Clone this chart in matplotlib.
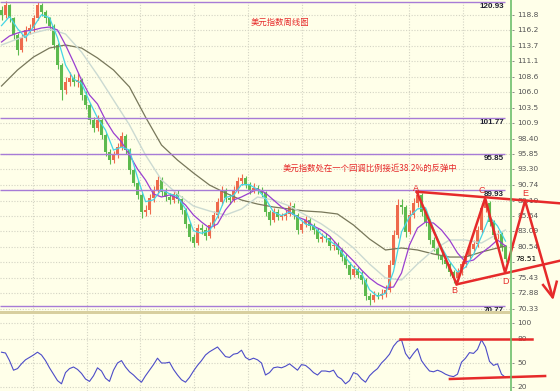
import matplotlib
matplotlib.use('Agg')
import matplotlib.pyplot as plt
import numpy as np
from matplotlib.lines import Line2D
from matplotlib.patches import Rectangle

plt.rcParams['font.family'] = ['Noto Sans CJK SC', 'DejaVu Sans']

# ---------------- data (4-week bars) ----------------
first_open = 119.6
close = [118.7, 120.4, 118.2, 115.5, 113.0, 115.0, 116.3, 116.6, 118.2, 120.4,
         119.2, 118.2, 116.9, 113.8, 110.5, 106.4, 107.7, 108.4, 107.7, 108.0,
         105.6, 103.9, 101.5, 100.1, 101.5, 99.0, 96.2, 94.9, 95.7, 97.0,
         98.8, 96.5, 93.2, 91.1, 89.1, 86.3, 86.6, 88.6, 89.9, 91.6,
         89.6, 88.8, 88.3, 89.3, 88.4, 86.6, 84.3, 82.2, 81.2, 83.7,
         83.3, 82.4, 84.1, 85.8, 88.0, 89.9, 88.6, 88.3, 89.9, 91.4,
         91.9, 90.9, 89.9, 90.3, 89.9, 89.4, 86.3, 85.0, 86.3, 85.5,
         85.6, 86.0, 87.3, 85.8, 83.3, 84.3, 85.0, 84.0, 83.3, 81.9,
         82.2, 82.0, 80.7, 80.9, 80.0, 78.9, 77.6, 76.0, 76.9, 76.0,
         75.1, 72.5, 71.8, 72.6, 72.5, 72.8, 73.5, 77.6, 82.5, 87.5,
         87.1, 83.0, 85.8, 87.8, 89.1, 86.3, 84.7, 81.7, 80.4, 79.2,
         78.4, 77.7, 76.4, 75.4, 76.4, 77.7, 79.0, 80.2, 81.0, 83.3,
         86.9, 87.8, 84.7, 82.5, 82.7, 80.5, 78.51]
high = [120.2, 121.0, 120.6, 118.5, 115.8, 115.6, 117.0, 117.3, 118.8, 120.9,
        120.7, 119.6, 118.5, 117.2, 114.2, 110.8, 108.6, 109.3, 109.0, 109.2,
        108.4, 106.2, 104.3, 102.0, 102.3, 101.9, 99.3, 96.7, 96.4, 97.7,
        99.5, 99.2, 96.9, 93.6, 91.5, 89.5, 87.4, 89.2, 90.6, 92.3,
        92.0, 90.2, 89.4, 90.0, 89.9, 88.9, 87.0, 84.7, 82.7, 84.3,
        84.3, 83.8, 84.7, 86.4, 88.6, 90.5, 90.3, 89.2, 90.5, 92.0,
        92.5, 92.2, 91.3, 91.0, 90.8, 90.4, 89.7, 86.7, 86.9, 86.8,
        86.2, 86.7, 88.0, 87.7, 86.2, 84.9, 85.6, 85.4, 84.5, 83.7,
        82.8, 82.8, 82.4, 81.5, 81.3, 80.4, 79.3, 78.0, 77.6, 77.3,
        76.5, 75.5, 72.9, 73.3, 73.2, 73.6, 74.3, 78.4, 83.4, 88.5,
        88.4, 87.4, 86.6, 88.6, 89.6, 89.4, 86.8, 85.1, 82.1, 80.9,
        79.7, 78.9, 78.1, 76.8, 77.0, 78.3, 79.6, 80.8, 81.7, 84.0,
        87.7, 88.5, 88.1, 85.0, 83.4, 83.0, 80.9]
low = [118.0, 118.3, 117.6, 114.8, 112.2, 112.6, 114.5, 115.6, 116.0, 117.9,
       118.6, 117.5, 116.2, 113.2, 109.8, 104.7, 105.8, 107.0, 107.0, 106.9,
       104.8, 103.2, 100.8, 99.5, 99.6, 98.4, 95.6, 94.2, 94.4, 95.2,
       96.5, 95.9, 92.6, 90.5, 88.4, 85.3, 85.6, 86.0, 88.0, 89.3,
       89.0, 88.1, 87.6, 87.8, 87.8, 86.0, 83.7, 81.6, 80.5, 80.9,
       82.6, 81.7, 82.0, 83.6, 85.3, 87.5, 88.0, 87.6, 87.9, 89.4,
       90.8, 90.2, 89.3, 89.4, 89.2, 88.7, 85.6, 84.2, 84.6, 84.9,
       84.9, 85.0, 85.6, 85.2, 82.7, 82.9, 83.8, 83.4, 82.7, 81.3,
       81.3, 81.4, 80.1, 80.1, 79.4, 78.3, 77.0, 75.3, 75.6, 75.4,
       74.4, 71.8, 70.9, 71.4, 71.9, 72.0, 72.3, 73.1, 77.2, 82.0,
       85.9, 82.2, 82.6, 85.3, 87.2, 85.6, 84.0, 81.0, 79.8, 78.6,
       77.8, 77.1, 75.8, 74.6, 75.0, 76.0, 77.2, 78.6, 79.7, 80.6,
       82.9, 86.3, 84.0, 81.8, 81.9, 79.9, 78.0]

# moving averages, sampled every 2 bars (fast, mid) and every 4 bars (slow, long)
ma_fast = [117.0, 118.5, 116.5, 115.0, 116.8, 118.8, 118.3, 115.0, 110.5, 108.2,
           107.5, 104.5, 101.8, 99.8, 96.5, 97.0, 96.5, 92.0, 88.0, 88.3,
           90.0, 89.3, 88.9, 86.8, 83.2, 82.8, 83.2, 85.5, 88.7, 89.0,
           90.8, 90.8, 90.0, 88.5, 86.3, 85.7, 86.3, 85.5, 84.3, 84.0,
           82.6, 81.6, 80.6, 78.8, 77.2, 76.2, 73.5, 72.4, 72.9, 76.5,
           83.0, 85.5, 86.8, 87.0, 83.5, 80.5, 78.2, 76.4, 77.2, 79.3,
           82.3, 85.5, 84.0, 81.5]
ma_mid = [114.30, 115.29, 115.78, 116.11, 116.28, 116.61, 116.77, 116.28, 113.81, 111.01,
          108.04, 105.57, 104.09, 101.45, 99.31, 97.83, 95.69, 93.38, 91.57, 89.26,
          88.77, 89.10, 88.60, 87.45, 85.80, 84.65, 83.66, 84.32, 86.63, 88.27,
          88.77, 89.43, 90.09, 89.43, 88.27, 87.12, 86.30, 85.47, 84.98, 83.99,
          83.33, 82.34, 80.86, 79.54, 78.22, 76.74, 75.43, 74.44, 73.78, 73.94,
          76.25, 80.86, 83.66, 84.65, 84.48, 83.33, 81.69, 79.54, 78.06, 78.39,
          79.54, 80.53, 81.69, 80.70]
ma_slow = [113.81, 114.80, 115.79, 116.44, 115.62, 112.65, 108.87, 104.75, 100.63, 95.69,
           91.57, 89.26, 87.28, 86.46, 85.80, 86.79, 88.77, 88.27, 87.28, 85.80,
           84.32, 82.51, 80.37, 77.73, 75.43, 75.10, 77.73, 80.04, 81.69, 81.69,
           81.19, 82.68, 83.33]
ma_long = [107.05, 109.69, 111.83, 113.31, 113.81, 113.31, 111.67, 109.69, 106.89, 101.94,
           97.33, 94.85, 92.72, 90.74, 89.43, 88.27, 87.61, 87.12, 86.79, 86.46,
           86.30, 85.97, 84.15, 81.85, 80.04, 80.37, 80.04, 79.38, 78.88, 78.88,
           79.71, 80.37, 80.70]

rsi = [63.5, 62.5, 53, 41, 43, 49, 54, 57, 60, 63.5,
       60, 53, 44, 36, 28, 24, 38, 43, 45, 42,
       37, 30, 27, 34, 44, 40, 31, 27, 41, 50,
       53, 45, 39, 35, 30, 26, 34, 41, 48, 56,
       50, 50, 51, 42, 35, 29, 26, 32, 40, 47,
       53, 60, 64, 67, 70, 64, 58, 57, 61, 62,
       66, 57, 54, 56, 54, 50, 35, 38, 44, 45,
       44, 46, 49, 45, 41, 48, 47, 43, 38, 35,
       40, 40, 39, 41, 33, 30, 24, 28, 38, 36,
       30, 26, 34, 39, 43, 50, 55, 61, 71, 77,
       79, 62, 55, 62, 68, 53, 46, 40, 39, 41,
       39, 36, 34, 33, 36, 51, 56, 63, 62, 67,
       79, 70, 52, 47, 49, 36, 32]

levels = [120.93, 101.77, 95.85, 89.93, 70.77]
level_labels = ['120.93', '101.77', '95.85', '89.93', '70.77']
price_ticks = [118.82, 116.27, 113.72, 111.17, 108.61, 106.06, 103.51, 100.95, 98.40, 95.85,
               93.30, 90.74, 88.19, 85.64, 83.09, 80.54, 77.98, 75.43, 72.88, 70.33]
price_tick_labels = ['118.8', '116.2', '113.7', '111.1', '108.6', '106.0', '103.5',
                     '100.9', '98.40', '95.85', '93.30', '90.74', '88.19', '85.64', '83.09',
                     '80.54', '77.98', '75.43', '72.88', '70.33']
rsi_ticks = [100, 80, 50, 20]
rsi_tick_labels = ['100', '80', '50', '20']
last_price = 78.51

pattern_names = ['A', 'B', 'C', 'D', 'E']
pattern_x = [103.8, 113.8, 120.9, 125.9, 130.9]
pattern_y = [89.64, 74.38, 88.55, 76.30, 88.16]
target_x, target_y = 137.8, 72.24

title_text = '美元指数周线图'
note_text = '美元指数处在一个回调比例接近38.2%的反弹中'

# ---------------- style ----------------
bg = '#FFFFE9'
grid_c = '#D4D4C4'
lvl_c = '#A77BD6'
red = '#E62A2A'
up_c = '#EE6A4C'
dn_c = '#5DBA4E'

H = 391.0
fig = plt.figure(figsize=(5.6, 3.91), dpi=100)
fig.patch.set_facecolor(bg)
ax = fig.add_axes([0, 1 - 311 / H, 1, 311 / H])
ax2 = fig.add_axes([0, 0, 1, 78 / H])
XL = (-0.375, 139.625)
AXIS_X = 127.25
for a in (ax, ax2):
    a.set_facecolor(bg)
    a.set_xlim(*XL)
    a.axis('off')
ax.set_ylim(69.99, 121.22)
ax2.set_ylim(15, 112.5)

year_lines = [7.9, 21.4, 34.6, 48.1, 61.6, 75.1, 88.4, 101.9, 115.4]
for a in (ax, ax2):
    y0, y1 = a.get_ylim()
    a.vlines(year_lines, y0, y1, color=grid_c, lw=0.8, linestyles=(0, (1, 1.5)), zorder=0)
ax.hlines(price_ticks, XL[0], AXIS_X, color=grid_c, lw=0.8, linestyles=(0, (1, 1.5)), zorder=0)
ax2.hlines(rsi_ticks, XL[0], AXIS_X, color=grid_c, lw=0.8, linestyles=(0, (1, 1.5)), zorder=0)

# candles
close_a = np.array(close)
idx = np.arange(len(close_a))
opens = np.r_[first_open, close_a[:-1]]
up = close_a >= opens
cols = np.where(up, up_c, dn_c)
ax.vlines(idx, low, high, colors=cols, lw=0.8, zorder=2)
ax.bar(idx[up], (close_a - opens)[up], bottom=opens[up], width=0.7, color=up_c, lw=0, zorder=2)
ax.bar(idx[~up], (close_a - opens)[~up], bottom=opens[~up], width=0.7, color=dn_c, lw=0, zorder=2)

# moving averages
x2 = np.arange(0, len(close_a), 2)
x4 = list(range(0, 125, 4)) + [126]
ax.plot(x4, ma_long, color='#77775A', lw=0.9, zorder=3)
ax.plot(x4, ma_slow, color='#CBDAD2', lw=1.0, zorder=3)
ax.plot(x2, ma_mid, color='#9A3FD0', lw=0.9, zorder=3)
ax.plot(x2, ma_fast, color='#45D5E6', lw=0.9, zorder=3)

# levels
ax.hlines(levels, XL[0], 125.9, color=lvl_c, lw=1.0, zorder=4)
for v, lab in zip(levels, level_labels):
    ax.annotate(lab, (125.6, v), xytext=(0, -4.5), textcoords='offset pixels',
                ha='right', va='center', fontsize=5.8, fontweight='bold', color='#1E1E30',
                family=['Liberation Sans', 'DejaVu Sans'], zorder=6)

# axis line, tick labels
fig.add_artist(Line2D([510.5 / 560] * 2, [0, 1], color='#6CBF6C', lw=1.2))
fig.add_artist(Rectangle((0, 1 - 313.5 / H), 510 / 560, 3 / H, color='#D8CF9F',
                         transform=fig.transFigure, lw=0))
for v, lab in zip(price_ticks, price_tick_labels):
    ax.hlines(v, 127.5, 128.2, color='#777777', lw=0.6)
    if abs(v - last_price) < 1.0:
        continue
    ax.text(128.9, v, lab, ha='left', va='center', fontsize=5.4, color='#555555',
            family=['DejaVu Sans'])
ax.text(128.5, last_price, f'{last_price:.2f}', ha='left', va='center', fontsize=5.4,
        color='#000000', family=['DejaVu Sans'])
for v, lab in zip(rsi_ticks, rsi_tick_labels):
    ax2.hlines(v, 127.5, 128.2, color='#777777', lw=0.6)
    ax2.text(128.9, v, lab, ha='left', va='center', fontsize=5.4, color='#555555',
             family=['DejaVu Sans'])

# pattern annotation
px = pattern_x + [target_x]
py = pattern_y + [target_y]
ax.plot(px, py, color=red, lw=1.8, zorder=7, solid_capstyle='round')
ax.plot([pattern_x[0], 139.6], [pattern_y[0], 87.73], color=red, lw=1.8, zorder=7)
ax.plot([pattern_x[1], 139.6], [pattern_y[1], 78.27], color=red, lw=1.8, zorder=7)
ax.plot([135.4, target_x, 138.8], [74.27, target_y, 74.81], color=red, lw=1.8, zorder=7)
label_pos = [(103.5, 90.17), (113.25, 73.36), (120.0, 89.92), (126.1, 74.85), (131.0, 89.34)]
for name, (lx, ly) in zip(pattern_names, label_pos):
    ax.text(lx, ly, name, ha='center', va='center', fontsize=6.5, color=red,
            family=['Liberation Sans', 'DejaVu Sans'], zorder=8)

ax.text(69.6, 117.6, title_text, ha='center', va='center', fontsize=6, color=red, zorder=8)
ax.text(70.4, 93.55, note_text, ha='left', va='center', fontsize=6.0, color=red, zorder=8)

# RSI panel
ax2.plot(idx, rsi, color='#4C4CC8', lw=0.8, zorder=3)
ax2.plot([99.6, 132.6], [80, 80], color=red, lw=1.8, zorder=4)
ax2.plot([112.1, 135.9], [30, 33.75], color=red, lw=1.8, zorder=4)

fig.savefig('out.png', dpi=100, facecolor=bg)
